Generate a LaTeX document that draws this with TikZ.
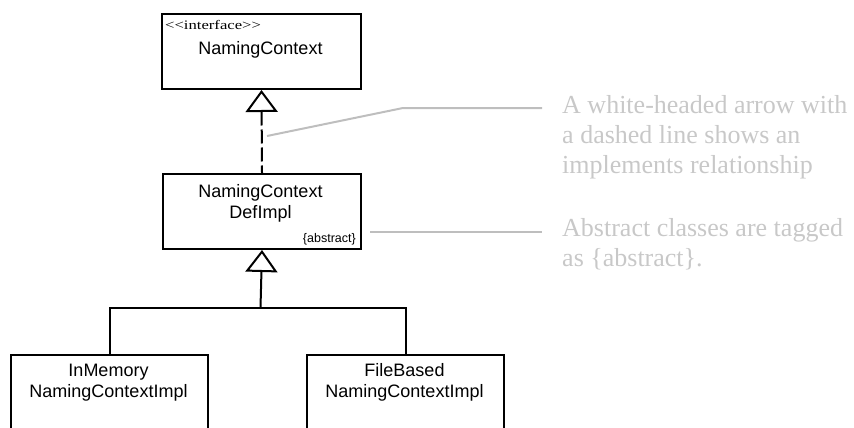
\documentclass[tikz,border=0pt]{standalone}
\usepackage{fontspec}
\setmainfont{Liberation Serif}
\newfontfamily\arialf{Liberation Sans}
\usetikzlibrary{arrows.meta}
\definecolor{notegray}{RGB}{200,200,200}
\definecolor{leadgray}{RGB}{190,190,190}
\tikzset{
  classbox/.style={draw=black, line width=2pt, anchor=north west, inner sep=0pt},
  lbl/.style={font=\arialf\fontsize{18}{21}\selectfont, align=center, inner sep=0pt, anchor=base},
  small/.style={inner sep=0pt, anchor=base west},
  conn/.style={draw=black, line width=2pt},
  realize/.style={conn, dash pattern=on 14pt off 4pt, {Triangle[open, length=22pt, width=32pt, line width=2pt]}-},
  gen/.style={conn, -{Triangle[open, length=22pt, width=32pt, line width=2pt]}},
  leader/.style={draw=leadgray, line width=2pt},
  note/.style={text=notegray, font=\fontsize{26}{30}\selectfont, align=left, inner sep=0pt, anchor=base west}
}
\begin{document}
\begin{tikzpicture}[x=1pt,y=-1pt]
\useasboundingbox (0,0) rectangle (854,428);
\clip (0,0) rectangle (854,428);
% boxes
\node[classbox, minimum width=199pt, minimum height=75pt] (ctx) at (161,13) {};
\node[classbox, minimum width=198pt, minimum height=75pt] (impl) at (162,173) {};
\node[classbox, minimum width=197pt, minimum height=100pt] (mem) at (10,354) {};
\node[classbox, minimum width=197pt, minimum height=100pt] (file) at (306,354) {};
% labels
\node[small, font=\fontsize{13}{14}\selectfont] (ster) at (165,30) {\scalebox{1.28}[1]{{<}{<}interface{>}{>}}};
\node[lbl] (ctxname) at (260.5,55) {NamingContext};
\node[lbl] (implname) at (260.5,218) {NamingContext\\DefImpl};
\node[inner sep=0pt, anchor=base east, font=\arialf\fontsize{12.5}{14}\selectfont] (abs) at (356,242) {\{abstract\}};
\node[lbl] (memname) at (108.5,397) {InMemory\\NamingContextImpl};
\node[lbl] (filename) at (404.5,397) {FileBased\\NamingContextImpl};
% connectors
\draw[realize] (ctx.south) -- (impl.north);
\coordinate (j) at (260.5,308);
\draw[gen] (j) -- (impl.south);
\draw[conn] (mem.north) |- (j) -| (file.north);
% notes
\node[note] (note1) at (562,173) {A white-headed arrow with\\a dashed line shows an\\implements relationship};
\node[note] (note2) at (562,266) {Abstract classes are tagged\\as \{abstract\}.};
\coordinate (p1) at (267,136);
\coordinate (k1) at (403,108);
\coordinate (e1) at (542,108);
\draw[leader] (p1) -- (k1) -- (e1);
\coordinate (p2) at (370,232);
\coordinate (e2) at (542,232);
\draw[leader] (p2) -- (e2);
\end{tikzpicture}
\end{document}
